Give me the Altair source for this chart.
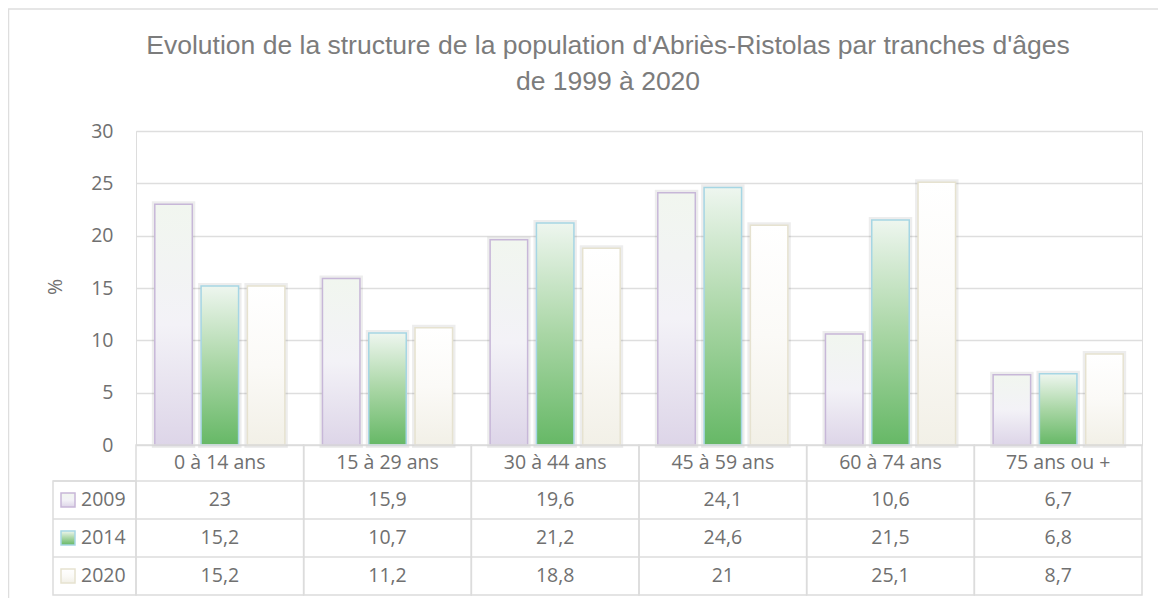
import altair as alt
import pandas as pd

title_lines = ["Evolution de la structure de la population d'Abriès-Ristolas par tranches d'âges",
               "de 1999 à 2020"]
cats = ["0 à 14 ans", "15 à 29 ans", "30 à 44 ans", "45 à 59 ans", "60 à 74 ans", "75 ans ou +"]
years = ["2009", "2014", "2020"]
v2009 = [23, 15.9, 19.6, 24.1, 10.6, 6.7]
v2014 = [15.2, 10.7, 21.2, 24.6, 21.5, 6.8]
v2020 = [15.2, 11.2, 18.8, 21, 25.1, 8.7]
y_ticks = [0, 5, 10, 15, 20, 25, 30]


def fmt(v):
    s = ("%g" % v)
    return s.replace(".", ",")


rows = []
for yr, vals in zip(years, [v2009, v2014, v2020]):
    for c, v in zip(cats, vals):
        rows.append({"cat": c, "year": yr, "value": v, "label": fmt(v)})
df = pd.DataFrame(rows)
cat_df = pd.DataFrame({"cat": cats})
one = pd.DataFrame({"k": [0]})

FONT = "Open Sans"
FS = 19.5
TXT = "#707070"
GRID = "#dedede"

styles = {
    "2009": (["#f1f6ef", "#f3f2f7", "#ddd5e8"], "#c7b7d8"),
    "2014": (["#eef6ef", "#a9d6a5", "#66b866"], "#a6d6e4"),
    "2020": (["#ffffff", "#fbfaf7", "#f2f0e7"], "#e6e2d0"),
}


def grad(cols):
    return alt.LinearGradient(
        gradient="linear",
        stops=[alt.GradientStop(color=cols[0], offset=0),
               alt.GradientStop(color=cols[1], offset=0.5),
               alt.GradientStop(color=cols[2], offset=1)],
        x1=0, x2=0, y1=0, y2=1)


X = alt.X("cat:N", sort=cats, scale=alt.Scale(domain=cats, paddingInner=0, paddingOuter=0), axis=None)
XO = alt.XOffset("year:N", scale=alt.Scale(domain=years, paddingInner=0.19, paddingOuter=0.406))
Y = alt.Y("value:Q", scale=alt.Scale(domain=[0, 30], nice=False),
          axis=alt.Axis(values=y_ticks, grid=True, gridColor=GRID, gridWidth=1.5,
                        domain=False, ticks=False, labelPadding=23,
                        labelFont=FONT, labelFontSize=FS, labelColor=TXT, title=None))

layers = []

# border
layers.append(alt.Chart(one).mark_rect(fill="white", fillOpacity=0, stroke="#dedede", strokeWidth=1.5).encode(
    x=alt.value(-127.5), x2=alt.value(1100), y=alt.value(-122), y2=alt.value(520)))

# title
for i, t in enumerate(title_lines):
    layers.append(alt.Chart(one).mark_text(font="Liberation Sans", fontSize=26.5, color="#7c7c7c",
                                           align="center", baseline="alphabetic").encode(
        x=alt.value(472), y=alt.value(-77 + 36 * i), text=alt.value(t)))

# axis title
layers.append(alt.Chart(one).mark_text(font=FONT, fontSize=FS, color=TXT, angle=270,
                                       align="center", baseline="middle").encode(
    x=alt.value(-80), y=alt.value(156), text=alt.value("%")))

# bar shadow
layers.append(alt.Chart(df).mark_bar(fill="white", stroke="black", strokeOpacity=0.07, strokeWidth=6).encode(
    x=X, xOffset=XO, y=Y))

for yr in years:
    cols, stroke = styles[yr]
    layers.append(alt.Chart(df).transform_filter(alt.datum.year == yr).mark_bar(
        color=grad(cols), stroke=stroke, strokeWidth=1.5).encode(x=X, xOffset=XO, y=Y))

# table grid
RULE = dict(color="#dcdcdc", strokeWidth=1.5)
for yy in [350, 388, 426]:
    layers.append(alt.Chart(one).mark_rule(**RULE).encode(x=alt.value(-83), x2=alt.value(1006), y=alt.value(yy)))
layers.append(alt.Chart(one).mark_rect(fill="white", fillOpacity=0, stroke="#dcdcdc", strokeWidth=1.5).encode(
    x=alt.value(-83), x2=alt.value(0), y=alt.value(350), y2=alt.value(464)))
layers.append(alt.Chart(cat_df).mark_rect(fill="white", fillOpacity=0, stroke="#dcdcdc", strokeWidth=1.5).encode(
    x=X, y=alt.value(314), y2=alt.value(464)))

# header
layers.append(alt.Chart(cat_df).mark_text(font=FONT, fontSize=FS, color=TXT, baseline="middle").encode(
    x=X, y=alt.value(332), text="cat:N"))

row_y = {"2009": 369, "2014": 407, "2020": 445}
for yr in years:
    cols, stroke = styles[yr]
    cy = row_y[yr]
    layers.append(alt.Chart(df).transform_filter(alt.datum.year == yr).mark_text(
        font=FONT, fontSize=FS, color=TXT, baseline="middle").encode(
        x=X, y=alt.value(cy), text="label:N"))
    layers.append(alt.Chart(one).mark_rect(color=grad(cols), stroke=stroke, strokeWidth=1.5).encode(
        x=alt.value(-75), x2=alt.value(-61), y=alt.value(cy - 7), y2=alt.value(cy + 7)))
    layers.append(alt.Chart(one).mark_text(font=FONT, fontSize=FS, color=TXT, align="left",
                                           baseline="middle").encode(
        x=alt.value(-55), y=alt.value(cy), text=alt.value(yr)))

chart = alt.layer(*layers).properties(
    width=1006, height=314,
    autosize=alt.AutoSizeParams(type="none"),
    padding={"left": 128, "top": 123, "right": 16, "bottom": 153},
).configure_view(strokeWidth=0).configure(background="white")

chart.save("out.html", embed_options={"renderer": "svg", "actions": False})
